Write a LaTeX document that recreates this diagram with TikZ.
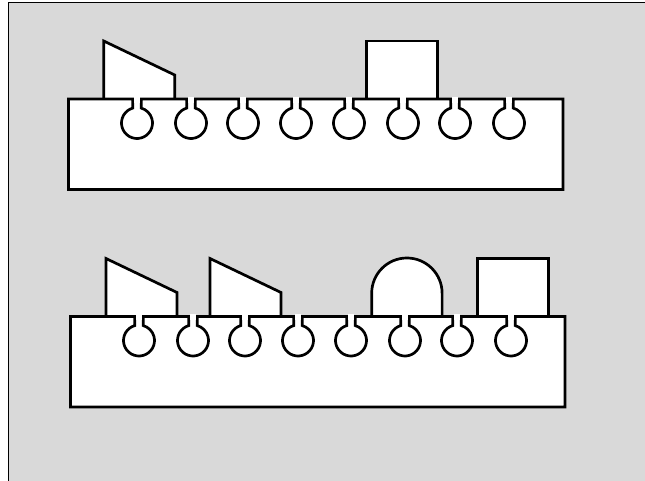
\documentclass[tikz,border=0pt]{standalone}
\usepackage{tikz}
\tikzset{x=1pt,y=1pt}
\tikzset{outline/.style={draw=black,fill=white,line width=2.7pt,line join=miter}}
\definecolor{panelgray}{HTML}{D9D9D9}

\newcommand{\railbase}{
    \fill[white] (0,0) rectangle (494.5,-90.5);
    \draw[outline,fill=none] (0,0)
        foreach \x in {68.5,122.5,174.5,227.5,280.5,334.5,386.5,440.5} {
            -- (\x-4.25,0) -- (\x-4.25,-9.1)
            arc (105.9:434.1:15.5pt)
            -- (\x+4.25,0)
        }
        -- (494.5,0) -- (494.5,-90.5) -- (0,-90.5) -- cycle;
    \foreach \x in {68.5,122.5,174.5,227.5,280.5,334.5,386.5,440.5}
        \fill[white] (\x-2.9,-4) rectangle (\x+2.9,2.4);
}
\newcommand{\wedgeblock}[1]{
    \draw[outline] (#1,0) -- (#1,58) -- (#1+71,24) -- (#1+71,0);
}
\newcommand{\squareblock}[1]{
    \draw[outline] (#1,0) -- (#1,58) -- (#1+71,58) -- (#1+71,0);
}
\newcommand{\domeblock}[1]{
    \draw[outline] (#1,0) -- (#1,23.3) arc (180:0:35.2pt) -- (#1+70.4,0);
}

\begin{document}
\begin{tikzpicture}
    \useasboundingbox (0,0) rectangle (645,481);
    % panel
    \fill[panelgray] (8,0) rectangle (645,478.5);
    \draw[line width=0.9pt] (8,0) -- (8,478.2) -- (645,478.2);

    % top row
    \begin{scope}[shift={(68.5,382)}]
        \wedgeblock{35.2}
        \squareblock{298.2}
        \railbase
    \end{scope}

    % bottom row
    \begin{scope}[shift={(70.5,164.5)}]
        \wedgeblock{35.5}
        \wedgeblock{139.5}
        \domeblock{301.2}
        \squareblock{406.8}
        \railbase
    \end{scope}
\end{tikzpicture}
\end{document}
